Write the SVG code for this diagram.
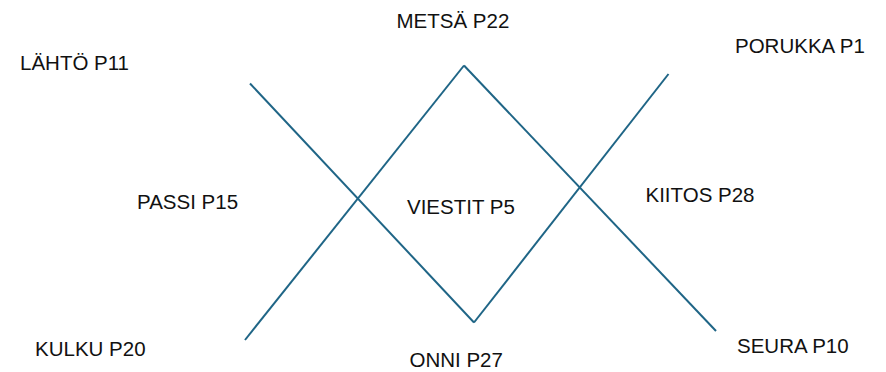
<svg xmlns="http://www.w3.org/2000/svg" width="886" height="372" viewBox="0 0 886 372">
<style>
.lbl{font-family:"Liberation Sans",Arial,sans-serif;font-size:20.5px;fill:#111}
.ln{stroke:#1f6586;stroke-width:2;fill:none;stroke-linecap:butt}
</style>
<rect width="886" height="372" fill="#fff"/>
<g id="connectors">
<line class="ln" x1="250" y1="83.5" x2="474" y2="322.5"/>
<line class="ln" x1="245" y1="340" x2="464" y2="65.5"/>
<line class="ln" x1="464" y1="65.5" x2="716" y2="331"/>
<line class="ln" x1="474" y1="322.5" x2="668.5" y2="74"/>
</g>
<g id="n-lahto"><text class="lbl" x="20" y="69.5">LÄHTÖ P11</text></g>
<g id="n-metsa"><text class="lbl" x="396.5" y="27.5">METSÄ P22</text></g>
<g id="n-porukka"><text class="lbl" x="735" y="52.5">PORUKKA P1</text></g>
<g id="n-passi"><text class="lbl" x="137" y="208.5">PASSI P15</text></g>
<g id="n-viestit"><text class="lbl" x="407" y="214">VIESTIT P5</text></g>
<g id="n-kiitos"><text class="lbl" x="645.5" y="201.5">KIITOS P28</text></g>
<g id="n-kulku"><text class="lbl" x="35" y="356">KULKU P20</text></g>
<g id="n-onni"><text class="lbl" x="409.5" y="366.5">ONNI P27</text></g>
<g id="n-seura"><text class="lbl" x="737" y="353">SEURA P10</text></g>
</svg>
